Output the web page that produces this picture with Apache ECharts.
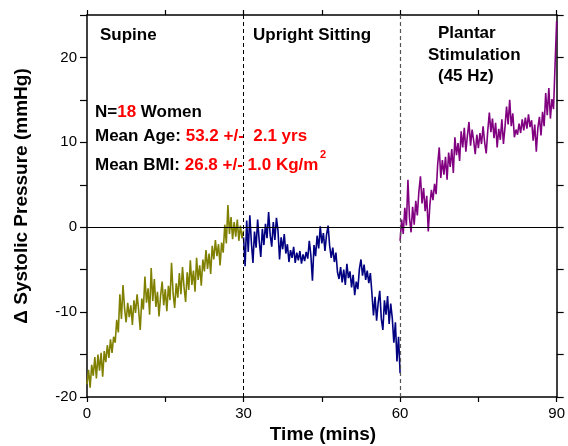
<!DOCTYPE html>
<html>
<head>
<meta charset="utf-8">
<script src="https://cdn.jsdelivr.net/npm/echarts@6/dist/echarts.min.js"></script>
<style>
html,body{margin:0;padding:0;background:#fff;}
#chart{width:568px;height:446px;}
</style>
</head>
<body>
<div id="chart"></div>
<script>
// ---- data (Δ systolic pressure, mmHg), sampled every 0.3 min ----
const sampleStepMin = 0.3;
const phaseStarts = [0, 30, 60];
const phaseNames = ['Supine', 'Upright Sitting', 'Plantar Stimulation (45 Hz)'];
const xTickLabels = ['0', '30', '60', '90'];
const yTickLabels = ['-20', '-10', '0', '10', '20'];

const supineValues = [
  -18.5,-16.8,-18.9,-16.2,-17.5,-15.3,-17.8,-15.0,-16.9,-14.8,
  -17.6,-14.6,-15.9,-13.9,-15.4,-13.2,-14.8,-12.9,-13.6,-10.9,
  -12.4,-7.9,-10.8,-6.8,-9.6,-11.2,-8.9,-10.6,-9.2,-11.5,
  -8.6,-10.1,-7.9,-9.8,-12.1,-8.4,-9.7,-5.8,-8.9,-7.2,
  -10.3,-4.8,-8.7,-6.1,-9.4,-7.6,-10.5,-8.1,-6.4,-9.2,
  -7.3,-9.9,-6.9,-8.6,-4.2,-7.8,-9.5,-6.6,-8.3,-5.4,
  -7.9,-4.7,-7.1,-8.8,-5.3,-7.4,-3.9,-6.8,-5.1,-7.6,
  -3.6,-6.2,-4.5,-6.9,-3.8,-5.2,-2.7,-4.9,-3.1,-5.5,
  -2.2,-3.8,-1.5,-3.4,-2.0,-4.5,-1.8,-3.0,0.3,-1.9,
  2.6,-0.8,1.2,-1.4,0.6,-1.1,0.9,-1.6,0.2,-1.3,
  -0.4
];
const uprightValues = [
  -1.2,-4.6,0.8,-2.9,1.4,-1.8,-4.2,-0.5,-2.4,0.9,
  -1.6,-3.5,-0.2,-2.1,0.4,-1.3,1.8,-0.9,-2.3,0.6,
  -1.5,1.1,-0.4,-3.8,-1.2,-2.6,-0.8,-3.1,-2.0,-4.1,
  -2.7,-3.6,-2.3,-4.2,-3.0,-3.9,-2.8,-4.3,-3.2,-4.0,
  -2.9,-3.7,-1.6,-3.3,-6.3,-2.1,-3.4,-1.0,-2.5,0.1,
  -1.9,-0.7,-2.8,-0.9,0.2,-2.2,-3.6,-2.4,-4.1,-3.0,
  -5.3,-6.1,-4.7,-6.5,-5.0,-6.8,-4.3,-6.0,-5.2,-7.1,
  -5.6,-8.0,-6.4,-7.3,-4.9,-3.8,-5.7,-4.4,-6.2,-5.1,
  -6.6,-5.4,-7.8,-10.4,-8.2,-11.0,-8.9,-7.5,-10.8,-12.1,
  -8.6,-10.3,-8.1,-11.4,-9.0,-10.7,-13.6,-11.2,-15.8,-12.9,
  -17.2
];
const plantarValues = [
  -1.6,0.9,-0.8,2.3,0.2,5.6,1.1,-0.6,2.4,0.3,
  3.1,1.4,4.2,6.0,2.8,4.6,1.9,3.7,-0.5,2.6,
  4.4,3.2,5.1,3.9,7.4,9.4,5.8,7.9,6.2,8.3,
  5.6,8.8,7.1,9.2,6.4,10.6,8.5,9.9,7.8,11.3,
  9.4,11.7,8.9,10.8,12.4,9.6,11.5,10.2,8.6,10.9,
  9.3,11.1,9.8,11.9,10.0,8.7,11.4,13.5,11.2,12.8,
  10.5,12.3,9.4,11.6,10.3,12.7,9.8,11.8,14.2,12.1,
  15.0,11.9,13.4,10.6,11.5,10.9,12.2,11.1,12.7,11.4,
  12.9,11.6,13.3,11.8,12.6,10.2,12.1,8.9,11.7,13.0,
  10.8,13.6,11.9,15.8,13.2,16.4,12.8,15.1,13.9,19.2,
  24.3
];

function toPoints(start, values) {
  return values.map((v, i) => [+(start + i * sampleStepMin).toFixed(2), v]);
}

const FONT = '"Liberation Sans", Arial, sans-serif';
const chart = echarts.init(document.getElementById('chart'), null, {renderer: 'canvas'});

const axisLineStyle = {color: '#000', width: 1.5};
const commonX = {
  type: 'value', min: 0, max: 90, interval: 15,
  splitLine: {show: false},
  axisLine: {show: true, onZero: false, lineStyle: axisLineStyle},
  axisTick: {show: true, inside: false, length: 5, lineStyle: {color: '#000', width: 1.2}}
};
const commonY = {
  type: 'value', min: -20, max: 25, interval: 5,
  splitLine: {show: false},
  axisLine: {show: true, onZero: false, lineStyle: axisLineStyle},
  axisTick: {show: true, inside: false, length: 7, lineStyle: {color: '#000', width: 1.2}}
};

function boldText(x, y, text, align) {
  return {type: 'text', x: x, y: y, silent: true,
    style: {text: text, font: 'bold 17px ' + FONT, fill: '#000', align: align || 'left', verticalAlign: 'middle'}};
}
function richLine(x, y, text) {
  return {type: 'text', x: x, y: y, silent: true,
    style: {text: text, font: 'bold 17px ' + FONT, verticalAlign: 'middle', align: 'left',
      rich: {
        k: {fill: '#000', font: 'bold 17px ' + FONT},
        r: {fill: '#ff0000', font: 'bold 17px ' + FONT}
      }}};
}

chart.setOption({
  animation: false,
  backgroundColor: '#fff',
  grid: {left: 87, right: 8, top: 15, bottom: 49, containLabel: false},
  xAxis: [
    Object.assign({}, commonX, {
      position: 'bottom',
      axisLabel: {show: true, margin: 9, color: '#000', fontSize: 15, fontFamily: FONT,
        formatter: v => (xTickLabels.indexOf(String(v)) >= 0 ? String(v) : '')}
    }),
    Object.assign({}, commonX, {position: 'top', axisLabel: {show: false}})
  ],
  yAxis: [
    Object.assign({}, commonY, {
      position: 'left',
      axisLabel: {show: true, margin: 10, color: '#000', fontSize: 15, fontFamily: FONT,
        formatter: v => (yTickLabels.indexOf(String(v)) >= 0 ? String(v) : '')}
    }),
    Object.assign({}, commonY, {position: 'right', axisLabel: {show: false}})
  ],
  series: [
    {
      name: phaseNames[0], type: 'line', xAxisIndex: 0, yAxisIndex: 0,
      data: toPoints(phaseStarts[0], supineValues),
      showSymbol: false, symbol: 'none',
      lineStyle: {color: '#808000', width: 1.6},
      z: 3,
      markLine: {
        silent: true, symbol: 'none', label: {show: false}, animation: false,
        data: [
          {yAxis: 0, lineStyle: {color: '#000', width: 1, type: 'solid'}},
          {xAxis: 30, lineStyle: {color: '#000', width: 1, type: [4, 3]}},
          {xAxis: 60, lineStyle: {color: '#555', width: 1.2, type: [4, 3]}}
        ]
      }
    },
    {
      name: phaseNames[1], type: 'line', xAxisIndex: 0, yAxisIndex: 0,
      data: toPoints(phaseStarts[1], uprightValues),
      showSymbol: false, symbol: 'none',
      lineStyle: {color: '#000080', width: 1.6}, z: 3
    },
    {
      name: phaseNames[2], type: 'line', xAxisIndex: 0, yAxisIndex: 0,
      data: toPoints(phaseStarts[2], plantarValues),
      showSymbol: false, symbol: 'none',
      lineStyle: {color: '#800080', width: 1.6}, z: 3
    }
  ],
  graphic: [
    boldText(100, 35, 'Supine'),
    boldText(253, 35, 'Upright Sitting'),
    boldText(438, 33, 'Plantar'),
    boldText(428, 55, 'Stimulation'),
    boldText(438, 76, '(45 Hz)'),
    richLine(95, 112, '{k|N=}{r|18}{k| Women}'),
    richLine(95, 136, '{k|Mean Age: }{r|53.2 +/-  2.1 yrs}'),
    richLine(95, 165, '{k|Mean BMI: }{r|26.8 +/- 1.0 Kg/m}'),
    {type: 'text', x: 320, y: 149, silent: true,
      style: {text: '2', font: 'bold 11px ' + FONT, fill: '#ff0000', align: 'left', verticalAlign: 'top'}},
    {type: 'text', x: 22, y: 196, rotation: Math.PI / 2, silent: true,
      style: {text: 'Δ Systolic Pressure (mmHg)', font: 'bold 19px ' + FONT, fill: '#000', align: 'center', verticalAlign: 'middle'}},
    {type: 'text', x: 323, y: 435, silent: true,
      style: {text: 'Time (mins)', font: 'bold 19px ' + FONT, fill: '#000', align: 'center', verticalAlign: 'middle'}}
  ]
});
</script>
</body>
</html>
